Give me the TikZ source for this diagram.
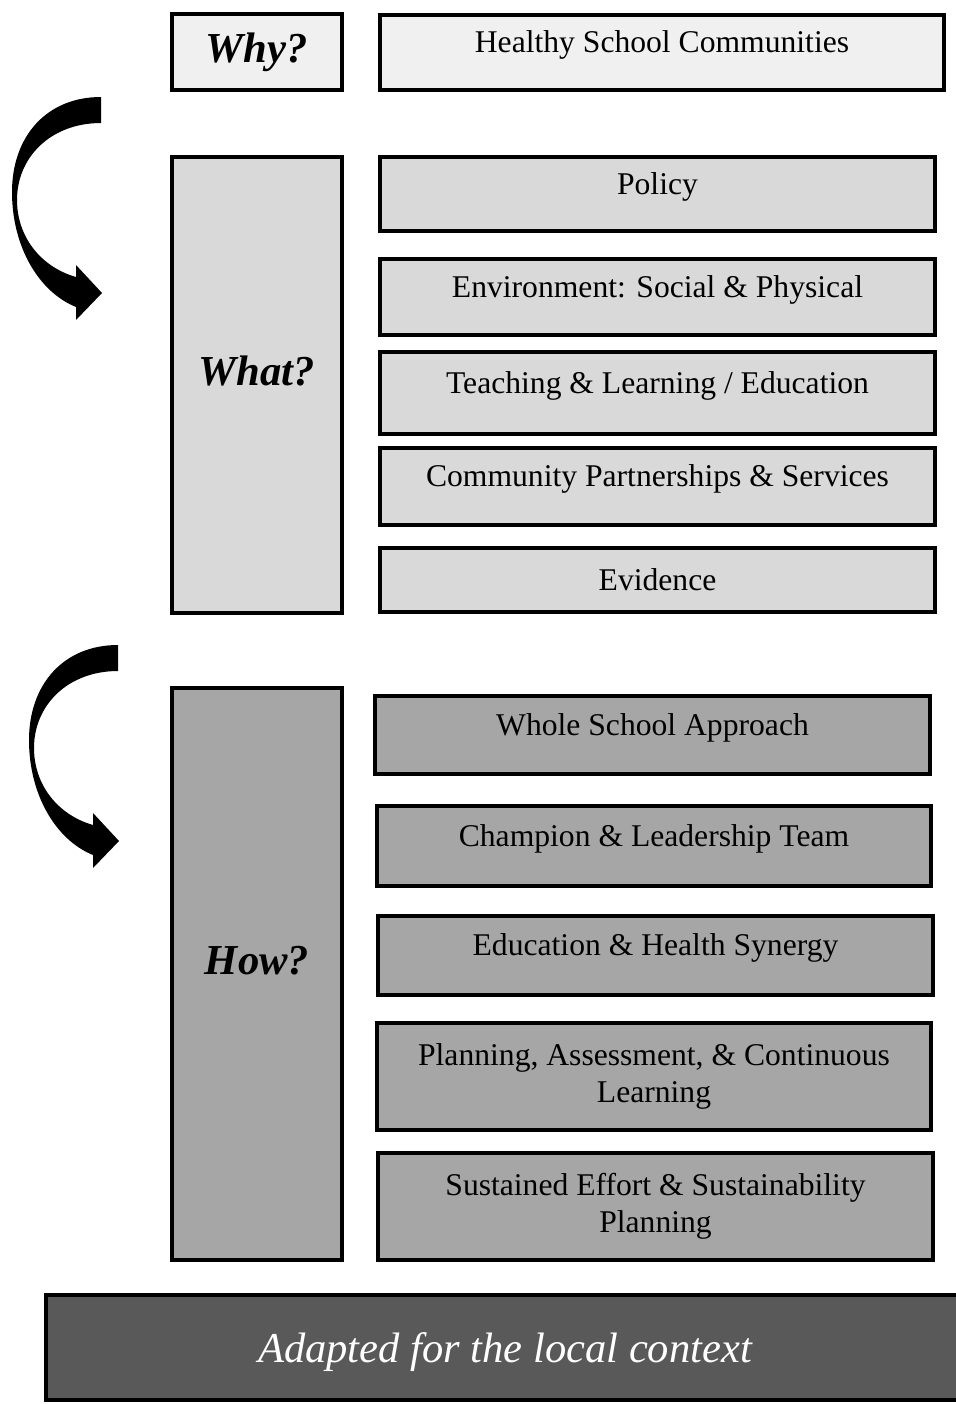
\documentclass[tikz,border=0pt]{standalone}
\usepackage{fontspec}
\setmainfont{Liberation Serif}
\usetikzlibrary{positioning}

\definecolor{whyfill}{HTML}{F0F0F0}
\definecolor{whatfill}{HTML}{D9D9D9}
\definecolor{howfill}{HTML}{A6A6A6}
\definecolor{basefill}{HTML}{595959}

\tikzset{
  box/.style={draw=black, line width=2.2pt, rectangle, inner sep=0pt, align=center,
    font=\fontsize{18}{21}\selectfont},
  whybox/.style={box, fill=whyfill},
  whatbox/.style={box, fill=whatfill},
  howbox/.style={box, fill=howfill},
  askbox/.style={minimum width=3.40cm, font=\fontsize{24.3}{27}\selectfont\bfseries\itshape},
  lift/.style={text height=0.7em, text depth=0.7em},
  turnarrow/.pic={
    \fill[black] (0,0) .. controls (-55,0) and (-89,40) .. (-89,95)
      .. controls (-89,150) and (-62,195) .. (-25,210)
      -- (-25,223) -- (1,196) -- (-25,168) -- (-25,180)
      .. controls (-60,170) and (-84,140) .. (-84,103)
      .. controls (-84,60) and (-50,26) .. (0,26) -- cycle;
  }
}

\begin{document}
\begin{tikzpicture}[x=0.02cm, y=-0.02cm]
  \useasboundingbox (0,0) rectangle (956,1404);

  % why
  \node[whybox, askbox, minimum height=1.52cm] (why) at (257,52) {Why?};
  \node[whybox, minimum width=11.28cm, minimum height=1.50cm,
    text height=11pt, text depth=11pt] (healthy) at (662,52.5) {Healthy School Communities};

  % what
  \pic at (101,97) {turnarrow};
  \node[whatbox, askbox, lift, minimum height=9.12cm] (what) at (257,385) {What?};
  \node[whatbox, lift, minimum width=11.10cm, minimum height=1.48cm] (policy) at (657.5,194) {Policy};
  \node[whatbox, lift, minimum width=11.10cm, minimum height=1.52cm] (environment) at (657.5,297) {Environment: Social \& Physical};
  \node[whatbox, lift, minimum width=11.10cm, minimum height=1.64cm] (teaching) at (657.5,393) {Teaching \& Learning / Education};
  \node[whatbox, lift, minimum width=11.10cm, minimum height=1.54cm] (community) at (657.5,486.5) {Community Partnerships \& Services};
  \node[whatbox, minimum width=11.10cm, minimum height=1.28cm] (evidence) at (657.5,580) {Evidence};

  % how
  \pic at (118,645) {turnarrow};
  \node[howbox, askbox, lift, minimum height=11.44cm] (how) at (257,974) {How?};
  \node[howbox, lift, minimum width=11.10cm, minimum height=1.56cm] (whole) at (652.5,735) {Whole School Approach};
  \node[howbox, lift, minimum width=11.08cm, minimum height=1.60cm] (champion) at (654,846) {Champion \& Leadership Team};
  \node[howbox, lift, minimum width=11.10cm, minimum height=1.58cm] (synergy) at (655.5,955.5) {Education \& Health Synergy};
  \node[howbox, minimum width=11.08cm, minimum height=2.14cm] (planning) at (654,1076.5) {Planning, Assessment, \& Continuous\\Learning};
  \node[howbox, minimum width=11.10cm, minimum height=2.14cm] (sustained) at (655.5,1206.5) {Sustained Effort \& Sustainability\\Planning};

  % base
  \node[box, fill=basefill, text=white, minimum width=18.36cm, minimum height=2.10cm,
    text height=23pt, text depth=5.5pt, font=\fontsize{24.2}{27}\selectfont\itshape] (adapted) at (505,1347.5) {Adapted for the local context};
\end{tikzpicture}
\end{document}
